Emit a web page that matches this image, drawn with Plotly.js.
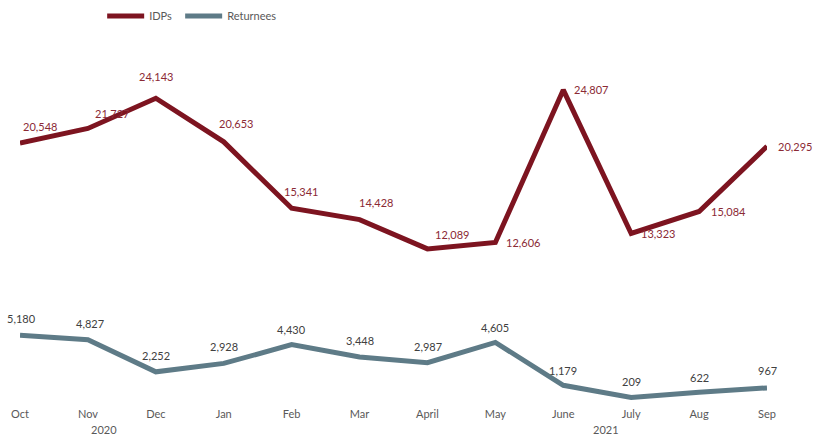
<!DOCTYPE html>
<html>
<head>
<meta charset="utf-8">
<script src="https://cdn.plot.ly/plotly-3.0.1.min.js"></script>
<style>html,body{margin:0;padding:0;background:#fff;}#chart{width:814px;height:436px;}</style>
</head>
<body>
<div id="chart"></div>
<script>
const months = ["Oct","Nov","Dec","Jan","Feb","Mar","April","May","June","July","Aug","Sep"];
const idps = [20548,21727,24143,20653,15341,14428,12089,12606,24807,13323,15084,20295];
const returnees = [5180,4827,2252,2928,4430,3448,2987,4605,1179,209,622,967];
const years = ["2020","2021"];

// label offsets in pixels (dx, dy up-positive)
const idpDx = [20,24,0,12,9,16,25,28,28,27,29,28];
const idpDy = [17,15,22,18,17,17,14,0,0,0,0,0];
const retDx = [1,2,0,0,0,0,1,0,0,0,0,0];
const retDy = [17,16,16,17,15,16,16,15,15,16,15,17];

const fmt = v => v.toLocaleString("en-US");
const font = "Lato, 'Open Sans', sans-serif";

const traces = [
  {x: months, y: idps, name: "IDPs", type: "scatter", mode: "lines",
   line: {color: "#7d1420", width: 5}, legend: "legend"},
  {x: months, y: returnees, name: "Returnees", type: "scatter", mode: "lines",
   line: {color: "#5e7b87", width: 5}, legend: "legend2"}
];

const labelAnns = [];
months.forEach((m, i) => {
  labelAnns.push({x: m, y: idps[i], xref: "x", yref: "y", text: fmt(idps[i]), showarrow: false,
    xshift: idpDx[i], yshift: idpDy[i], font: {size: 11, color: "#8b2a35", family: font}});
  labelAnns.push({x: m, y: returnees[i], xref: "x", yref: "y", text: fmt(returnees[i]), showarrow: false,
    xshift: retDx[i], yshift: retDy[i], font: {size: 11, color: "#404040", family: font}});
});

const legendBase = {orientation: "h", xanchor: "left", y: 1.097, yanchor: "middle", itemwidth: 37,
                    bgcolor: "rgba(0,0,0,0)", font: {size: 11, color: "#595959", family: font}};

const layout = {
  width: 814, height: 436,
  margin: {l: 20, r: 47, t: 50, b: 36, autoexpand: false},
  paper_bgcolor: "#fff", plot_bgcolor: "#fff",
  font: {family: font, size: 11, color: "#595959"},
  showlegend: true,
  legend: Object.assign({}, legendBase, {x: 0.11}),
  legend2: Object.assign({}, legendBase, {x: 0.2144}),
  xaxis: {type: "category", range: [0, 11], showgrid: false, zeroline: false, showline: false,
          ticks: "", ticklabelstandoff: 6, tickfont: {size: 11, color: "#595959"}},
  yaxis: {range: [0, 28000], visible: false, showgrid: false, zeroline: false},
  annotations: labelAnns.concat([
    {text: years[0], xref: "x", yref: "paper", x: 1.24, y: 0, yshift: -29, yanchor: "middle", showarrow: false,
     font: {size: 11, color: "#595959"}},
    {text: years[1], xref: "x", yref: "paper", x: 8.63, y: 0, yshift: -29, yanchor: "middle", showarrow: false,
     font: {size: 11, color: "#595959"}}
  ])
};
Plotly.newPlot("chart", traces, layout, {displayModeBar: false, staticPlot: true});
</script>
</body>
</html>
